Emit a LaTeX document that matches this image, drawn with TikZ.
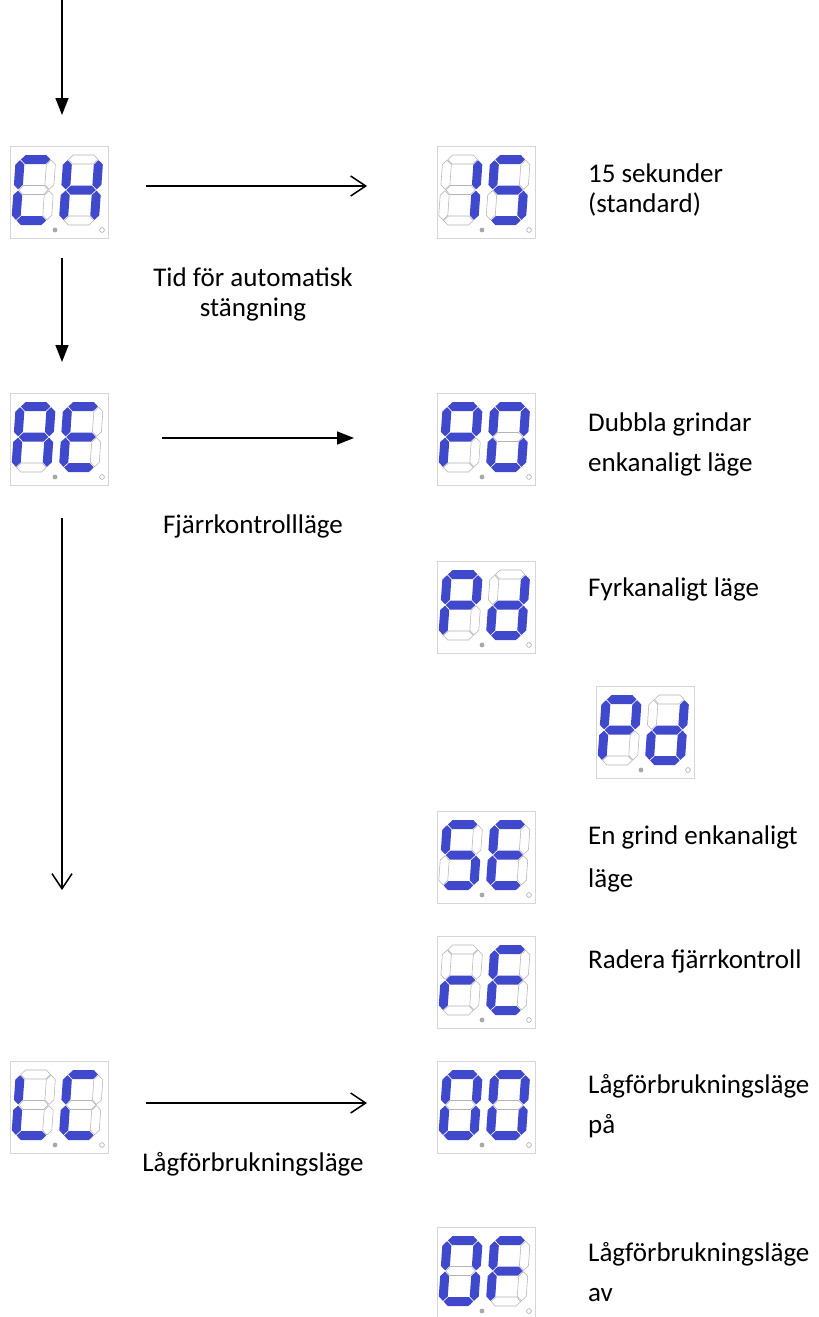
\documentclass[tikz,border=0pt]{standalone}
\usepackage{fontspec}
\setmainfont{Carlito}
\usetikzlibrary{arrows.meta,calc}
\definecolor{segblue}{HTML}{4048CC}
\definecolor{seggray}{HTML}{B4B4B4}
\definecolor{boxgray}{HTML}{D6D6D6}
\definecolor{dotgray}{HTML}{A8A8A8}
\makeatletter
\newcommand\segsty[2]{\in@{#1}{#2}\ifin@\tikzset{segcur/.style={onseg}}\else\tikzset{segcur/.style={offseg}}\fi}
\makeatother
\newcommand\hsegm[2]{\path[segcur] ({#1-14.8},#2) -- ({#1-10.3},{#2-4.5}) -- ({#1+10.3},{#2-4.5}) -- ({#1+14.8},#2) -- ({#1+10.3},{#2+4.5}) -- ({#1-10.3},{#2+4.5}) -- cycle;}
\newcommand\vsegm[2]{\path[segcur] (#1,{#2-14.6}) -- ({#1+4.5},{#2-10.1}) -- ({#1+4.5},{#2+10.1}) -- (#1,{#2+14.6}) -- ({#1-4.5},{#2+10.1}) -- ({#1-4.5},{#2-10.1}) -- cycle;}
\newcommand\sdig[3]{%
  \begin{scope}[shift={(#1+2.5,#2)},xslant=0.07]
    \segsty{a}{#3}\hsegm{20}{4.5}
    \segsty{g}{#3}\hsegm{20}{35}
    \segsty{d}{#3}\hsegm{20}{65.5}
    \segsty{f}{#3}\vsegm{4.5}{19.75}
    \segsty{b}{#3}\vsegm{35.5}{19.75}
    \segsty{e}{#3}\vsegm{4.5}{50.25}
    \segsty{c}{#3}\vsegm{35.5}{50.25}
  \end{scope}}
\newcommand\disp[5]{%
  \begin{scope}[shift={(#2,#3)}]
    \node[dispbox] (#1) at (0,0) {};
    \sdig{3.5}{9}{#4}
    \sdig{51}{9}{#5}
    \fill[dotgray] (45,84) circle (2.4);
    \draw[dotgray,line width=0.6] (92,84) circle (2.4);
  \end{scope}}
\tikzset{
  onseg/.style={fill=segblue},
  offseg/.style={draw=seggray,line width=0.55},
  dispbox/.style={draw=boxgray,line width=0.8,anchor=north west,minimum width=98pt,minimum height=92pt,inner sep=0pt,outer sep=0pt},
  arrline/.style={line width=1.5},
  filltip/.style={arrline,-{Triangle[length=17pt,width=13pt]}},
  opentip/.style={arrline,-{Straight Barb[length=15pt,width=20pt,line width=1.5]}},
  lbl/.style={font=\fontsize{27}{32}\selectfont,inner sep=0pt,anchor=base west},
  clbl/.style={font=\fontsize{27}{32}\selectfont,inner sep=0pt,anchor=base}
}
\begin{document}
\begin{tikzpicture}[x=1pt,y=-1pt]
\useasboundingbox (0,0) rectangle (819,1317);
\fill[white] (0,0) rectangle (819,1317);
% displays
\disp{ch}{10}{146}{afed}{fbgec}
\disp{s15}{437}{146}{bc}{afgcd}
\disp{ae}{10}{393}{afbgec}{afged}
\disp{pz}{437}{393}{afbge}{abcdef}
\disp{pda}{437}{561}{afbge}{bgecd}
\disp{pdb}{596}{686}{afbge}{bgecd}
\disp{se}{437}{811}{afgcd}{afged}
\disp{re}{437}{936}{ge}{afged}
\disp{lc}{10}{1061}{fed}{afed}
\disp{oo}{437}{1061}{abcdef}{abcdef}
\disp{of}{437}{1227}{abcdef}{afge}
% connector end points
\coordinate (c1s) at (62,0);
\coordinate (c1e) at (62,115);
\coordinate (c2s) at (146,186);
\coordinate (c2e) at (367,186);
\coordinate (c3s) at (62,258);
\coordinate (c3e) at (62,362);
\coordinate (c4s) at (162,438);
\coordinate (c4e) at (354,438);
\coordinate (c5s) at (62,518);
\coordinate (c5e) at (62,890);
\coordinate (c6s) at (146,1103);
\coordinate (c6e) at (367,1103);
\draw[filltip] (c1s) -- (c1e);
\draw[opentip] (c2s) -- (c2e);
\draw[filltip] (c3s) -- (c3e);
\draw[filltip] (c4s) -- (c4e);
\draw[opentip] (c5s) -- (c5e);
\draw[opentip] (c6s) -- (c6e);
% labels
\node[lbl] (t1a) at (588,182) {15 sekunder};
\node[lbl] (t1b) at (588,212) {(standard)};
\node[clbl] (t2a) at (253,286) {Tid för automatisk};
\node[clbl] (t2b) at (253,316) {stängning};
\node[lbl] (t3a) at (588,431) {Dubbla grindar};
\node[lbl] (t3b) at (588,471) {enkanaligt läge};
\node[clbl] (t4) at (253,533) {Fjärrkontrollläge};
\node[lbl] (t5) at (588,596) {Fyrkanaligt läge};
\node[lbl] (t6a) at (588,844) {En grind enkanaligt};
\node[lbl] (t6b) at (588,887) {läge};
\node[lbl] (t7) at (588,968) {Radera fjärrkontroll};
\node[lbl] (t8a) at (588,1093) {Lågförbrukningsläge};
\node[lbl] (t8b) at (588,1133) {på};
\node[clbl] (t9) at (253,1171) {Lågförbrukningsläge};
\node[lbl] (t10a) at (588,1261) {Lågförbrukningsläge};
\node[lbl] (t10b) at (588,1301) {av};
\end{tikzpicture}
\end{document}
